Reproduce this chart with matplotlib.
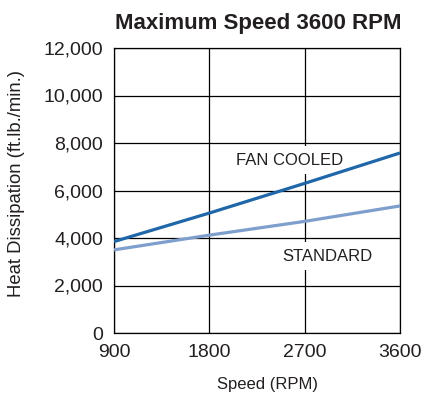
import matplotlib
matplotlib.use("Agg")
import matplotlib.pyplot as plt
from matplotlib.ticker import FuncFormatter

plt.rcParams["font.family"] = ["Liberation Sans", "DejaVu Sans"]

# data
speed_rpm = [900, 1800, 2700, 3600]
fan_cooled = [3850, 5050, 6300, 7580]
standard = [3500, 4120, 4700, 5350]
x_ticks = [900, 1800, 2700, 3600]
y_ticks = [0, 2000, 4000, 6000, 8000, 10000, 12000]

fig = plt.figure(figsize=(4.23, 4.0), dpi=100)
ax = fig.add_axes([114 / 423, 1 - 333 / 400, 286 / 423, 285 / 400])

ax.plot(speed_rpm, fan_cooled, color="#1f67a8", lw=2.3, solid_capstyle="butt", zorder=3)
ax.plot(speed_rpm, standard, color="#7e9fcd", lw=2.3, solid_capstyle="butt", zorder=3)

ax.set_xlim(900, 3600)
ax.set_ylim(0, 12000)
ax.set_xticks(x_ticks)
ax.set_yticks(y_ticks)
ax.yaxis.set_major_formatter(FuncFormatter(lambda v, p: f"{int(v):,}"))
ax.grid(True, color="black", lw=0.9)
ax.set_axisbelow(True)
ax.tick_params(length=0, labelsize=14, pad=8, labelcolor="#231f20")
for s in ax.spines.values():
    s.set_color("black")
    s.set_linewidth(0.9)

# labels sit in white boxes that break the grid lines
ax.text(2561, 7280, "FAN COOLED", ha="center", va="center", fontsize=12, color="#231f20",
        bbox=dict(facecolor="white", edgecolor="none", pad=4.5), zorder=2)
ax.text(2911, 3240, "STANDARD", ha="center", va="center", fontsize=12, color="#231f20",
        bbox=dict(facecolor="white", edgecolor="none", pad=4.5), zorder=2)

ax.set_title("Maximum Speed 3600 RPM", fontsize=16, fontweight="bold", pad=14, x=0.505,
             color="#231f20")
ax.set_xlabel("Speed (RPM)", fontsize=12, color="#231f20")
ax.set_ylabel("Heat Dissipation (ft.lb./min.)", fontsize=13.3, color="#231f20")
ax.xaxis.set_label_coords(0.535, -0.155)
ax.yaxis.set_label_coords(-0.311, 0.523)

fig.savefig("out.png", dpi=100)
